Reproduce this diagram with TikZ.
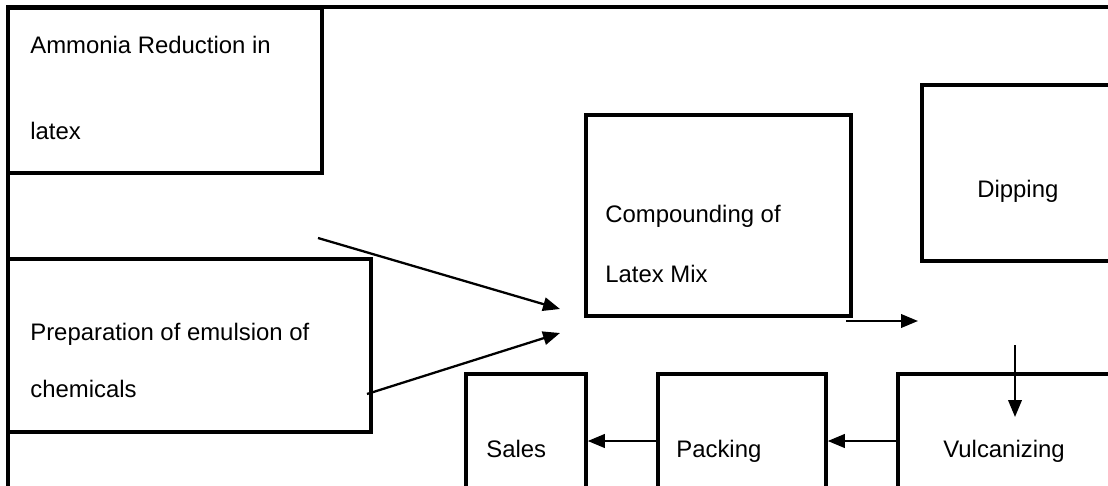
\documentclass[tikz,border=0pt]{standalone}
\usepackage{fontspec}
\setmainfont{Liberation Sans}
\usetikzlibrary{positioning, arrows.meta}
\tikzset{
>={Triangle[length=0.34cm,width=0.27cm]}, % filled triangle heads
flow/.style={->, line width=1.3pt}, % the connectors
stage/.style={draw, line width=2pt, inner sep=0pt}, % the process boxes
frame/.style={draw, line width=2pt}, % the open outer frame
caption/.style={anchor=base west, align=left, inner sep=0pt, font=\fontsize{13.6}{#1}\selectfont}, % box texts, #1 = line spacing
}

\begin{document}
\begin{tikzpicture}[x=0.02cm, y=-0.02cm]
    \useasboundingbox (0,0) rectangle (1108,486);
    \draw[frame] (1130,7) -- (8,7) -- (8,500);
    % boxes
    \node[stage, minimum width=6.28cm, minimum height=3.30cm] (ammonia) at (165,90.5) {};
    \node[stage, minimum width=7.26cm, minimum height=3.46cm] (emulsion) at (189.5,345.5) {};
    \node[stage, minimum width=5.30cm, minimum height=4.02cm] (compound) at (718.5,215.5) {};
    \node[stage, minimum width=3.80cm, minimum height=3.52cm] (dipping) at (1017,173) {};
    \node[stage, minimum width=2.40cm, minimum height=2.72cm] (sales) at (526,442) {};
    \node[stage, minimum width=3.36cm, minimum height=2.72cm] (packing) at (742,442) {};
    \node[stage, minimum width=4.44cm, minimum height=2.72cm] (vulcan) at (1009,442) {};
    % texts (base = last line)
    \node[caption=49] (ammoniatxt) at (30,140) {Ammonia Reduction in\\latex};
    \node[caption=32] (emulsiontxt) at (30,397) {Preparation of emulsion of\\chemicals};
    \node[caption=34] (compoundtxt) at (605,282) {Compounding of\\Latex Mix};
    \node[caption=16] (dippingtxt) at (977,197) {Dipping};
    \node[caption=16] (salestxt) at (486,457) {Sales};
    \node[caption=16] (packingtxt) at (676,457) {Packing};
    \node[caption=16] (vulcantxt) at (943,457) {Vulcanizing};
    % loose ends of the connectors
    \coordinate (fromammonia) at (318,238);
    \coordinate (intomix1) at (560,309);
    \coordinate (fromemulsion) at (367,394);
    \coordinate (intomix2) at (560,333);
    \coordinate (mixout) at (846,321);
    \coordinate (dipin) at (918,321);
    \coordinate (dipout) at (1015,345);
    \coordinate (vulcin) at (1015,417);
    \coordinate (rowline) at (0,441);
    \draw[flow] (fromammonia) -- (intomix1);
    \draw[flow] (fromemulsion) -- (intomix2);
    \draw[flow] (mixout) -- (dipin);
    \draw[flow] (dipout) -- (vulcin);
    \draw[flow] (vulcan.west |- rowline) -- (packing.east |- rowline);
    \draw[flow] (packing.west |- rowline) -- (sales.east |- rowline);
\end{tikzpicture}
\end{document}
